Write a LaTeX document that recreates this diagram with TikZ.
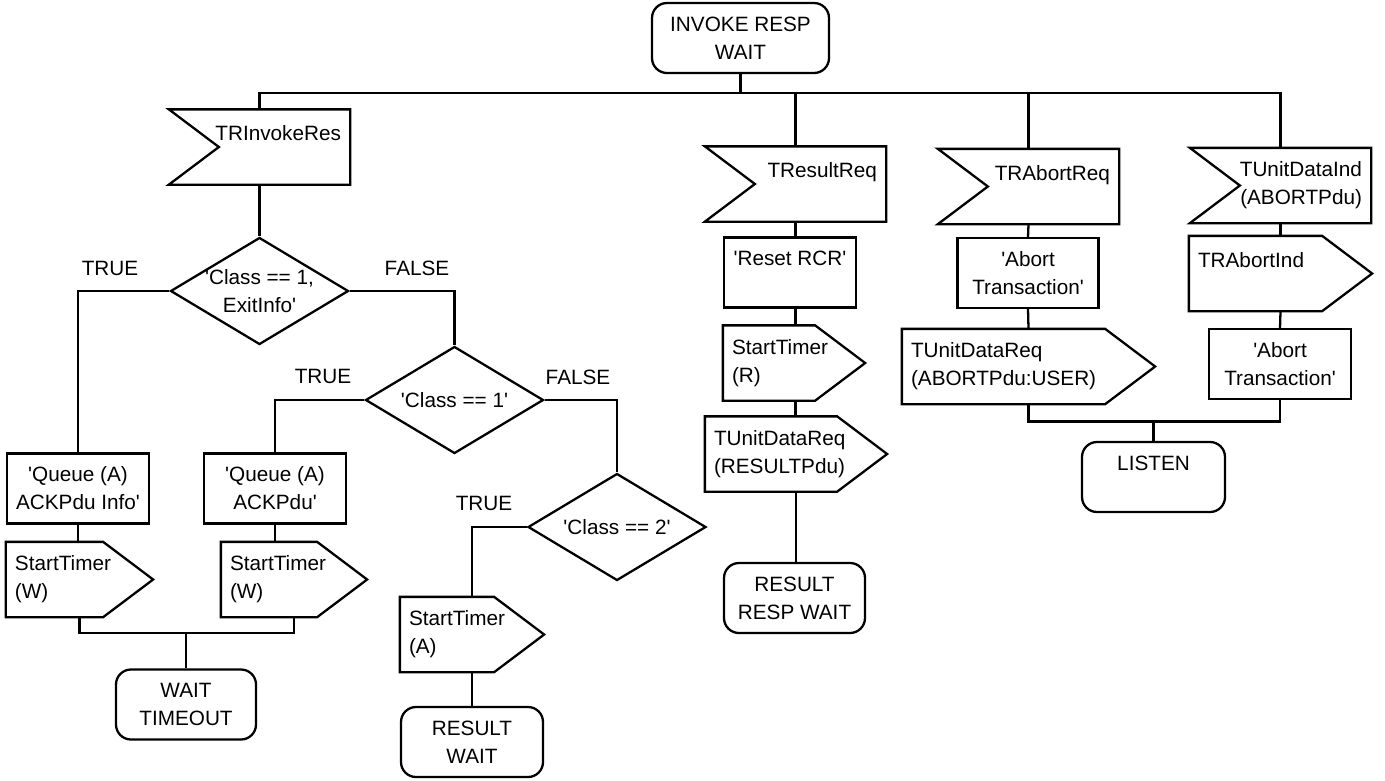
\documentclass[tikz,border=0pt]{standalone}
\usepackage{fontspec}
\newfontfamily\chartfont{Liberation Sans}
\usetikzlibrary{shapes.geometric}

\begin{document}
\begin{tikzpicture}[
  x=0.2mm, y=-0.2mm, line width=1.3pt,
  every node/.style={font=\chartfont\fontsize{11.8}{15.9}\selectfont},
  state/.style={rectangle, rounded corners=3mm, draw, minimum width=#1, minimum height=14mm, align=center},
  task/.style={rectangle, draw, minimum width=#1, minimum height=14mm, align=center},
  decision/.style={diamond, draw, minimum width=35.6mm, minimum height=21.4mm, inner sep=-4mm, align=center},
  outsig/.style={rectangle, text width=#1, minimum height=14.6mm, inner xsep=1.6mm, align=left,
    append after command={\pgfextra{\draw (\tikzlastnode.north west) -- ([xshift=-10mm]\tikzlastnode.north east)
      -- (\tikzlastnode.east) -- ([xshift=-10mm]\tikzlastnode.south east) -- (\tikzlastnode.south west) -- cycle;}}},
  insig/.style={rectangle, text width=#1, minimum height=14.6mm, inner xsep=1.6mm, align=right,
    append after command={\pgfextra{\draw (\tikzlastnode.north west) -- (\tikzlastnode.north east)
      -- (\tikzlastnode.south east) -- (\tikzlastnode.south west) -- ([xshift=10mm]\tikzlastnode.west) -- cycle;}}},
  upline/.style={text depth=5.6mm}
]
\useasboundingbox (0,0) rectangle (1385,780);

% States
\node[state=35.4mm] (irw) at (740.5,38) {INVOKE RESP\\WAIT};
\node[state=28mm] (wt) at (186,704.5) {WAIT\\TIMEOUT};
\node[state=28.4mm] (rw) at (472,742) {RESULT\\WAIT};
\node[state=28.2mm] (rrw) at (794.5,598) {RESULT\\RESP WAIT};
\node[state=28.6mm, upline] (ls) at (1153.5,477) {LISTEN};

% Input signals
\node[insig=32.6mm, upline] (tri) at (259.5,147) {TRInvokeRes};
\node[insig=32.6mm, upline] (trr) at (795.5,184) {TResultReq};
\node[insig=32.6mm, upline] (tra) at (1028.5,186.5) {TRAbortReq};
\node[insig=32.6mm] (tudi) at (1280.5,185.5) {TUnitDataInd\\(ABORTPdu)};

% Decisions
\node[decision] (d1) at (259.5,291) {'Class == 1,\\ExitInfo'};
\node[decision] (d2) at (454.5,400) {'Class == 1'};
\node[decision] (d3) at (617,527) {'Class == 2'};

% Tasks
\node[task=28.4mm] (q1) at (78,488.5) {'Queue (A)\\ACKPdu Info'};
\node[task=28.4mm] (q2) at (275,488.5) {'Queue (A)\\ACKPdu'};
\node[task=26.4mm, upline] (rcr) at (790,272.5) {'Reset RCR'};
\node[task=28.2mm] (abt1) at (1028,273) {'Abort\\Transaction'};
\node[task=28.4mm] (abt2) at (1280,364) {'Abort\\Transaction'};

% Output signals
\node[outsig=25.8mm] (st1) at (79.5,579.5) {StartTimer\\(W)};
\node[outsig=25.6mm] (st2) at (294,579.5) {StartTimer\\(W)};
\node[outsig=25.2mm] (st3) at (472,634.5) {StartTimer\\(A)};
\node[outsig=24.8mm] (str) at (794,363) {StartTimer\\(R)};
\node[outsig=32.8mm] (tdr) at (796,454) {TUnitDataReq\\(RESULTPdu)};
\node[outsig=47mm] (tdra) at (1028.5,366.5) {TUnitDataReq\\(ABORTPdu:USER)};
\node[outsig=33mm, upline] (trai) at (1280.5,273.5) {TRAbortInd};

% Branch labels
\node (t1) at (110,268) {TRUE};
\node (f1) at (417,268) {FALSE};
\node (t2) at (323,376) {TRUE};
\node (f2) at (578,377) {FALSE};
\node (t3) at (484,503) {TRUE};

% Junctions
\coordinate (bus) at (742,93);
\coordinate (wtjoin) at (186,633);
\coordinate (lsjoin) at (1153.5,421.5);

% Top bus
\draw (irw.south) -- (irw.south |- bus);
\draw (tri.north) |- (bus -| tudi.north) -- (tudi.north);
\draw (trr.north) -- (trr.north |- bus);
\draw (tra.north) -- (tra.north |- bus);

% Invoke result branch
\draw (tri.south) -- (d1.north);
\draw (d1.west) -| (q1.north);
\draw (d1.east) -| (d2.north);
\draw (d2.west) -| (q2.north);
\draw (d2.east) -| (d3.north);
\draw (d3.west) -| (st3.north);
\draw (st3.south) -- (rw.north);
\draw (q1.south) -- (q1.south |- st1.north);
\draw (q2.south) -- (q2.south |- st2.north);
\draw (st1.south) |- (wtjoin) -| (st2.south);
\draw (wtjoin) -- (wt.north);

% Result branch
\draw (trr.south) -- (trr.south |- rcr.north);
\draw (trr.south |- rcr.south) -- (trr.south |- str.north);
\draw (trr.south |- str.south) -- (trr.south |- tdr.north);
\draw (tdr.south) -- (tdr.south |- rrw.north);

% Abort branches
\draw (tra.south) -- (abt1.north);
\draw (abt1.south) -- (tdra.north);
\draw (tudi.south) -- (trai.north);
\draw (trai.south) -- (abt2.north);
\draw (tdra.south) |- (lsjoin) -| (abt2.south);
\draw (lsjoin) -- (ls.north);

\end{tikzpicture}
\end{document}
